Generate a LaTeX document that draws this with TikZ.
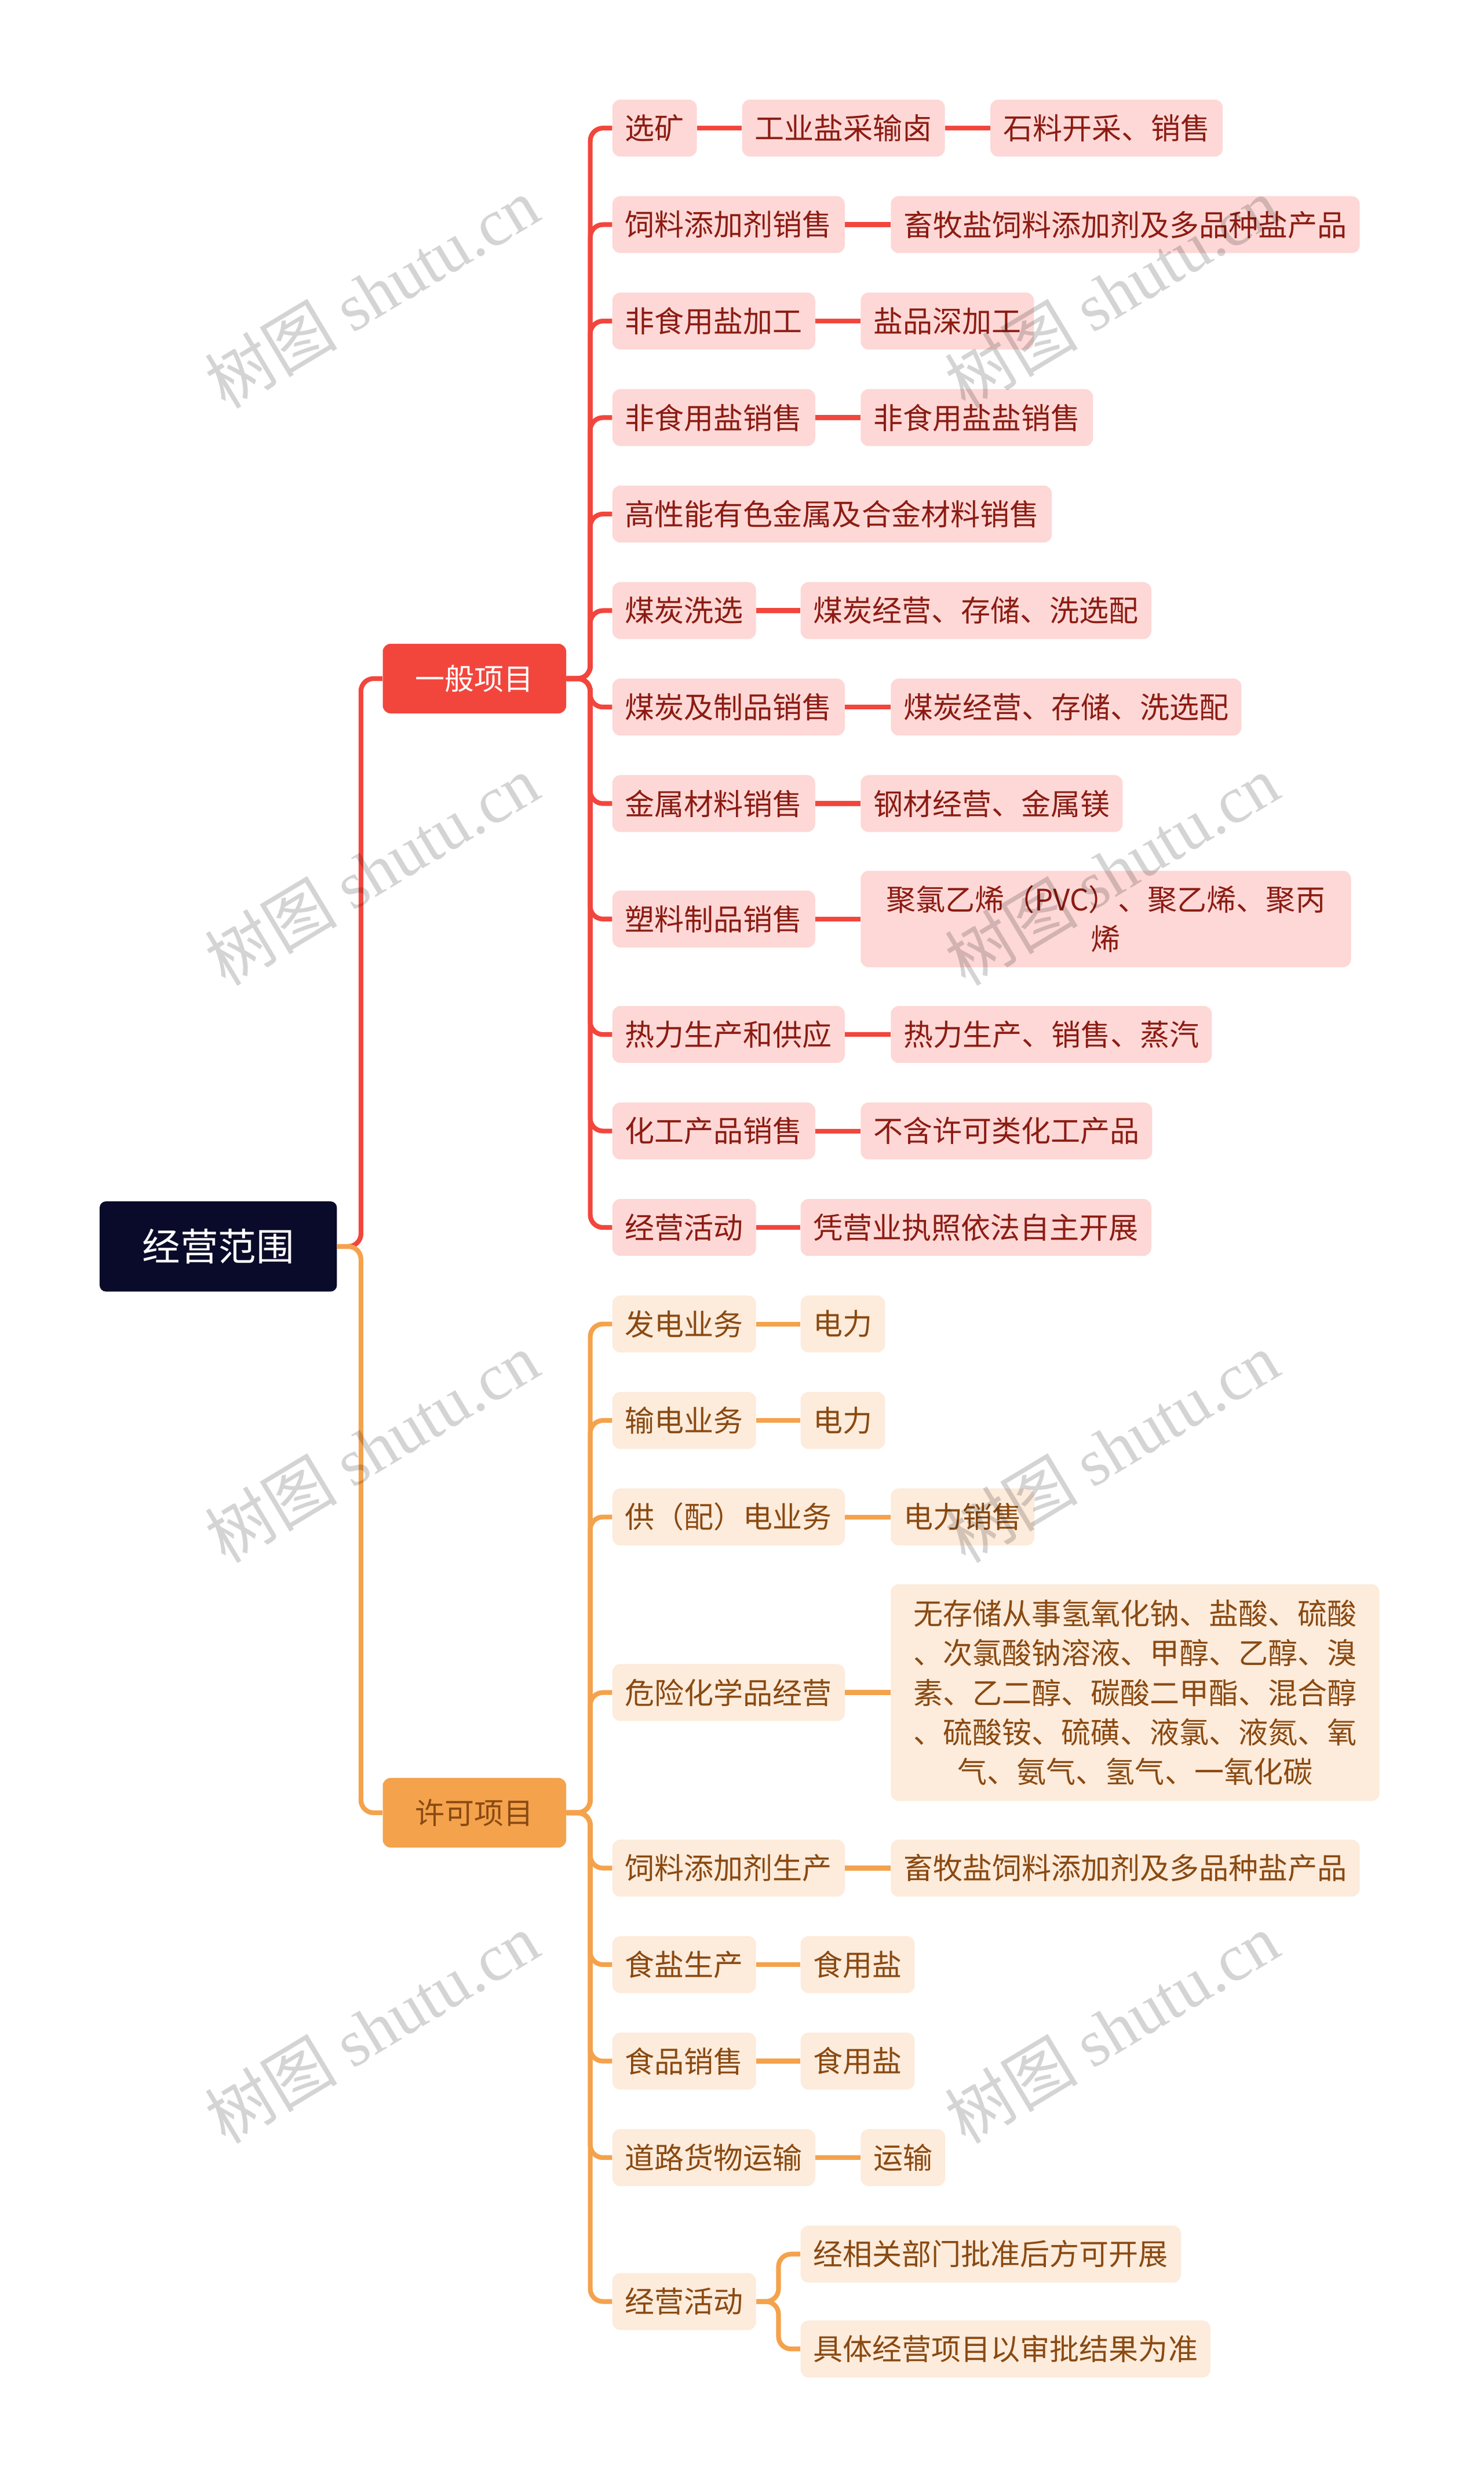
\documentclass[tikz,border=0pt]{standalone}
\usepackage{fontspec}
\setmainfont{Noto Sans CJK SC}
\newfontfamily\wmfont{Liberation Serif}
\usetikzlibrary{positioning}
\definecolor{rline}{HTML}{F2463D}
\definecolor{rfill}{HTML}{FDD8D6}
\definecolor{rtext}{HTML}{8C1C13}
\definecolor{oline}{HTML}{F4A24C}
\definecolor{ofill}{HTML}{FDEBDB}
\definecolor{otext}{HTML}{8A4A12}
\definecolor{rootc}{HTML}{0A0A2A}
\tikzset{
 rbox/.style={fill=rfill,text=rtext,rounded corners=5pt,minimum height=36pt,inner xsep=8pt,font=\fontsize{18.7}{25}\selectfont,anchor=west,align=center},
 obox/.style={fill=ofill,text=otext,rounded corners=5pt,minimum height=36pt,inner xsep=8pt,font=\fontsize{18.7}{25}\selectfont,anchor=west,align=center},
 rl/.style={draw=rline,line width=3pt,rounded corners=8pt},
 ol/.style={draw=oline,line width=3pt,rounded corners=8pt},
 wm/.style={text=black,text opacity=0.17,rotate=31,font=\fontsize{42}{42}\selectfont}
}
\begin{document}
\begin{tikzpicture}[x=1pt,y=-1pt]
\useasboundingbox (0,0) rectangle (938,1571);
% root and level 1
\node[fill=rootc,text=white,rounded corners=4pt,minimum width=150pt,minimum height=57pt,font=\fontsize{24}{28}\selectfont] (root) at (138,788) {经营范围};
\node[fill=rline,text=white,rounded corners=5pt,minimum width=116pt,minimum height=44pt,font=\fontsize{18.7}{22}\selectfont] (g) at (300,429) {一般项目};
\node[fill=oline,text=otext,rounded corners=5pt,minimum width=116pt,minimum height=44pt,font=\fontsize{18.7}{22}\selectfont] (p) at (300,1146) {许可项目};
\draw[rl] (root.east) -- ++(15,0) |- (g.west);
\draw[ol] (root.east) -- ++(15,0) |- (p.west);
% general items
\node[rbox] (a1) at (387,81) {选矿};
\node[rbox] (a1b) at (469,81) {工业盐采输卤};
\node[rbox] (a1c) at (626,81) {石料开采、销售};
\node[rbox] (a2) at (387,142) {饲料添加剂销售};
\node[rbox] (a2b) at (563,142) {畜牧盐饲料添加剂及多品种盐产品};
\node[rbox] (a3) at (387,203) {非食用盐加工};
\node[rbox] (a3b) at (544,203) {盐品深加工};
\node[rbox] (a4) at (387,264) {非食用盐销售};
\node[rbox] (a4b) at (544,264) {非食用盐盐销售};
\node[rbox] (a5) at (387,325) {高性能有色金属及合金材料销售};
\node[rbox] (a6) at (387,386) {煤炭洗选};
\node[rbox] (a6b) at (506,386) {煤炭经营、存储、洗选配};
\node[rbox] (a7) at (387,447) {煤炭及制品销售};
\node[rbox] (a7b) at (563,447) {煤炭经营、存储、洗选配};
\node[rbox] (a8) at (387,508) {金属材料销售};
\node[rbox] (a8b) at (544,508) {钢材经营、金属镁};
\node[rbox] (a9) at (387,581) {塑料制品销售};
\node[rbox,minimum height=61pt,text width=294pt] (a9b) at (544,581) {聚氯乙烯（PVC）、聚乙烯、聚丙\\烯};
\node[rbox] (a10) at (387,654) {热力生产和供应};
\node[rbox] (a10b) at (563,654) {热力生产、销售、蒸汽};
\node[rbox] (a11) at (387,715) {化工产品销售};
\node[rbox] (a11b) at (544,715) {不含许可类化工产品};
\node[rbox] (a12) at (387,776) {经营活动};
\node[rbox] (a12b) at (506,776) {凭营业执照依法自主开展};
\foreach \c in {a1,a2,a3,a4,a5,a6,a7,a8,a9,a10,a11,a12}{\draw[rl] (g.east) -- ++(15,0) |- (\c.west);}
\draw[rl] (a1.east) -- (a1b.west); \draw[rl] (a1b.east) -- (a1c.west);
\foreach \c in {a2,a3,a4,a6,a7,a8,a9,a10,a11,a12}{\draw[rl] (\c.east) -- (\c b.west);}
% permit items
\node[obox] (b1) at (387,837) {发电业务};
\node[obox] (b1b) at (506,837) {电力};
\node[obox] (b2) at (387,898) {输电业务};
\node[obox] (b2b) at (506,898) {电力};
\node[obox] (b3) at (387,959) {供（配）电业务};
\node[obox] (b3b) at (563,959) {电力销售};
\node[obox] (b4) at (387,1070) {危险化学品经营};
\node[obox,minimum height=137pt,text width=293pt] (b4b) at (563,1070) {无存储从事氢氧化钠、盐酸、硫酸\\、次氯酸钠溶液、甲醇、乙醇、溴\\素、乙二醇、碳酸二甲酯、混合醇\\、硫酸铵、硫磺、液氯、液氮、氧\\气、氨气、氢气、一氧化碳};
\node[obox] (b5) at (387,1181) {饲料添加剂生产};
\node[obox] (b5b) at (563,1181) {畜牧盐饲料添加剂及多品种盐产品};
\node[obox] (b6) at (387,1242) {食盐生产};
\node[obox] (b6b) at (506,1242) {食用盐};
\node[obox] (b7) at (387,1303) {食品销售};
\node[obox] (b7b) at (506,1303) {食用盐};
\node[obox] (b8) at (387,1364) {道路货物运输};
\node[obox] (b8b) at (544,1364) {运输};
\node[obox] (b9) at (387,1455) {经营活动};
\node[obox] (b9b) at (506,1425) {经相关部门批准后方可开展};
\node[obox] (b9c) at (506,1485) {具体经营项目以审批结果为准};
\foreach \c in {b1,b2,b3,b4,b5,b6,b7,b8,b9}{\draw[ol] (p.east) -- ++(15,0) |- (\c.west);}
\foreach \c in {b1,b2,b3,b4,b5,b6,b7,b8}{\draw[ol] (\c.east) -- (\c b.west);}
\draw[ol] (b9.east) -- ++(14,0) |- (b9b.west);
\draw[ol] (b9.east) -- ++(14,0) |- (b9c.west);
% watermarks on top
\foreach \wx in {235,703}{\foreach \wy in {185,550,915,1282}{
 \node[wm] at (\wx,\wy) {树图 {\wmfont shutu.cn}};}}
\end{tikzpicture}
\end{document}
